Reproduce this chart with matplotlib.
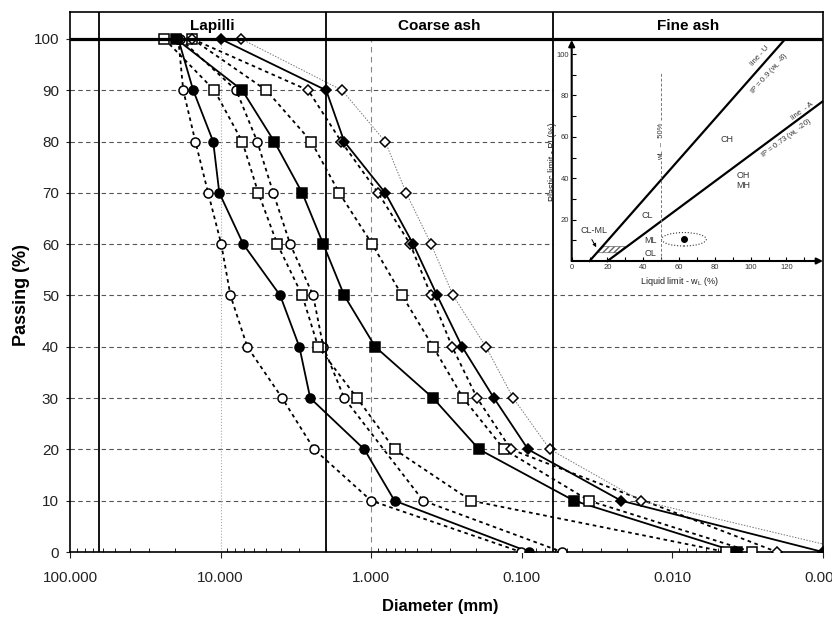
import numpy as np
import matplotlib
matplotlib.use("Agg")
import matplotlib.pyplot as plt
from matplotlib.patches import Ellipse, Polygon, Rectangle

plt.rcParams["font.family"] = ["Liberation Sans", "DejaVu Sans"]
plt.rcParams["mathtext.default"] = "regular"

# passing percentages (rows) shared by all samples
PASSING = [100, 90, 80, 70, 60, 50, 40, 30, 20, 10, 0]

# diameters (mm), one list per sample curve
open_circle_a = [19.1, 17.7, 14.7, 12.1, 9.9, 8.6, 6.65, 3.9, 2.39, 1.0, 0.101]
filled_circle = [19.1, 15.2, 11.2, 10.2, 7.07, 4.02, 3.0, 2.54, 1.11, 0.70, 0.0894]
open_square_a = [23.6, 11.0, 7.18, 5.62, 4.2, 2.87, 2.25, 1.24, 0.70, 0.217, 0.0044]
open_circle_b = [18.5, 7.87, 5.71, 4.47, 3.45, 2.43, 2.08, 1.51, np.nan, 0.452, 0.054]
filled_square = [19.7, 7.18, 4.4, 2.87, 2.08, 1.51, 0.94, 0.388, 0.192, 0.045, 0.00373]
open_square_b = [15.4, 4.97, 2.50, 1.63, 0.985, 0.623, 0.388, 0.245, 0.131, 0.0357, 0.00296]
open_diamond_a = [15.4, 2.62, 1.58, 0.90, 0.551, 0.40, 0.290, 0.198, 0.118, np.nan, 0.00202]
filled_diamond = [10.0, 1.99, 1.51, 0.807, 0.526, 0.365, 0.249, 0.153, 0.0908, 0.0219, 0.001]
open_diamond_b = [7.29, 1.56, 0.807, 0.586, 0.40, 0.286, 0.173, 0.114, 0.065, 0.0162, 0.0006]

# grain-size classes (mm boundaries) for the header
CLASS_NAMES = ["Lapilli", "Coarse ash", "Fine ash"]
CLASS_EDGES = [64, 2, 0.0625, 0.001]

X_TICKS = [100, 10, 1, 0.1, 0.01, 0.001]
Y_TICKS = list(range(0, 101, 10))

# plasticity chart inset
u_line_wl = [10, 119]
u_line_pi = [0, 107]
a_line_wl = [20, 140]
a_line_pi = [0, 77]
cl_ml_wl = [14, 26, 30, 17]
cl_ml_pi = [4, 4, 7, 7]
sample_wl = [63]
sample_pi = [10.6]


def main() -> None:
    fig = plt.figure(figsize=(8.32, 6.21), dpi=100)
    ax = fig.add_axes([70 / 832, 69 / 621, 753 / 832, 540 / 621])
    ytop = 105.26
    ax.set_xscale("log")
    ax.set_xlim(100, 0.001)
    ax.set_ylim(0, ytop)

    ax.set_yticks(Y_TICKS)
    ax.set_xticks(X_TICKS)
    ax.set_xticklabels([f"{v:.3f}" for v in X_TICKS])
    ax.tick_params(axis="both", which="major", labelsize=11, colors="#222222")
    ax.tick_params(axis="y", length=3, pad=5)
    ax.tick_params(axis="x", which="major", length=4, pad=10, direction="out")
    ax.tick_params(axis="x", which="minor", length=3, direction="in")
    for s in ax.spines.values():
        s.set_linewidth(1.2)

    for y in Y_TICKS[1:-1]:
        ax.axhline(y, color="#555555", lw=0.8, dashes=(4, 3), zorder=1)
    ax.axvline(10, ymax=100 / ytop, color="#aaaaaa", lw=0.8, ls=":", zorder=1)
    ax.axvline(1, ymax=100 / ytop, color="#888888", lw=0.8, dashes=(5, 4), zorder=1)

    # white backing for the inset (hides the grid in the fine-ash corner)
    ax.add_patch(Rectangle((0.001, 51), 0.0605, 49, facecolor="white",
                           edgecolor="none", zorder=2))

    # header band
    ax.axhline(100, color="black", lw=2.3, zorder=5)
    for edge in CLASS_EDGES[:3]:
        ax.axvline(edge, color="black", lw=1.3, zorder=5)
    for name, a, b in zip(CLASS_NAMES, CLASS_EDGES[:-1], CLASS_EDGES[1:]):
        ax.text(np.sqrt(a * b), 102.6, name, ha="center", va="center",
                fontsize=11, fontweight="bold")

    y = np.array(PASSING)
    dotted = (0, (2, 2))
    series = [
        (open_circle_a, "o", "white", dotted, "black", 1.3),
        (open_circle_b, "o", "white", dotted, "black", 1.3),
        (open_square_a, "s", "white", dotted, "black", 1.3),
        (open_square_b, "s", "white", dotted, "black", 1.3),
        (open_diamond_a, "D", "white", dotted, "black", 1.3),
        (open_diamond_b, "D", "white", (0, (1.5, 1.5)), "#777777", 0.7),
        (filled_circle, "o", "black", "-", "black", 1.3),
        (filled_square, "s", "black", "-", "black", 1.3),
        (filled_diamond, "D", "black", "-", "black", 1.3),
    ]
    for vals, mk, face, ls, lc, lw in series:
        d = np.array(vals, dtype=float)
        ok = ~np.isnan(d)
        ax.plot(d[ok], y[ok], color=lc, ls=ls, lw=lw, zorder=3)
        ms = 5.5 if mk == "D" else 6.5
        ax.plot(d[ok], y[ok], ls="none", marker=mk, ms=ms, mfc=face,
                mec="black", mew=1.1, zorder=4)

    fig.text(22 / 832, (621 - 295) / 621, "Passing (%)", rotation=90,
             ha="center", va="center", fontsize=13, fontweight="bold")
    fig.text(440 / 832, (621 - 606) / 621, "Diameter (mm)",
             ha="center", va="center", fontsize=12, fontweight="bold")

    axi = fig.add_axes([571.7 / 832, (621 - 261) / 621, 251.3 / 832, 221 / 621])
    axi.set_zorder(3)
    axi.patch.set_alpha(0)
    axi.set_xlim(0, 140.4)
    axi.set_ylim(0, 106.8)
    for s in axi.spines.values():
        s.set_visible(False)
    axi.set_xticks(range(0, 121, 20))
    axi.set_xticks(range(10, 131, 20), minor=True)
    axi.set_yticks(range(20, 101, 20))
    axi.set_yticks(range(10, 101, 20), minor=True)
    axi.tick_params(which="both", direction="in", length=3, width=0.8,
                    labelsize=5.5, pad=2, labelcolor="#333333")
    axi.annotate("", xy=(140.4, 0), xytext=(0, 0), annotation_clip=False,
                 arrowprops=dict(arrowstyle="-|>", lw=1.5, color="black", mutation_scale=9,
                                 shrinkA=0, shrinkB=0))
    axi.annotate("", xy=(0, 106.8), xytext=(0, 0), annotation_clip=False,
                 arrowprops=dict(arrowstyle="-|>", lw=1.5, color="black", mutation_scale=9,
                                 shrinkA=0, shrinkB=0))
    axi.text(-0.075, 0.45, "Plastic limit - PI (%)", rotation=90, transform=axi.transAxes,
             ha="center", va="center", fontsize=6.5, color="#222222")
    axi.text(0.43, -0.095, "Liquid limit - w$_L$ (%)", transform=axi.transAxes,
             ha="center", va="center", fontsize=6.5, color="#222222")

    axi.plot(u_line_wl, u_line_pi, color="black", lw=1.6, clip_on=False)
    axi.plot(a_line_wl, a_line_pi, color="black", lw=1.6, clip_on=False)
    axi.plot([50, 50], [0, 91.5], color="#777777", lw=0.7, dashes=(3, 2))
    axi.text(50, 58, "wL  \u2013  50%", rotation=90, ha="center", va="center",
             fontsize=5.5, color="#333333",
             bbox=dict(facecolor="white", edgecolor="none", pad=0.5))
    axi.add_patch(Polygon(list(zip(cl_ml_wl, cl_ml_pi)), closed=True, facecolor="white",
                          edgecolor="#666666", hatch="//////", lw=0.5))
    axi.plot(sample_wl, sample_pi, "o", color="black", ms=4)
    axi.add_patch(Ellipse((62.7, 10.5), 25, 6.5, fill=False, ls=":", lw=0.8,
                          edgecolor="#333333"))

    lbl = dict(fontsize=6.5, color="#333333", ha="center", va="center")
    axi.text(87, 58.5, "CH", **lbl)
    axi.text(96, 39, "OH\nMH", linespacing=1.1, **lbl)
    axi.text(42, 22, "CL", **lbl)
    axi.text(44, 10, "ML", **lbl)
    axi.text(44, 3.5, "OL", **lbl)
    axi.text(12.5, 14.5, "CL-ML", **lbl)
    axi.annotate("", xy=(14.5, 5.5), xytext=(10.5, 11.5),
                 arrowprops=dict(arrowstyle="-|>", lw=0.7, color="black", mutation_scale=5))

    small = dict(fontsize=5.5, color="#333333", ha="center", va="center", rotation_mode="anchor")
    axi.text(105, 99, "line - U", rotation=48.6, **small)
    axi.text(110.5, 90.5, "IP = 0.9 (w$_L$ -8)", rotation=48.6, **small)
    axi.text(129, 72.5, "line  - A", rotation=36.6, **small)
    axi.text(120, 59.5, "IP = 0.73 (w$_L$ -20)", rotation=36.6, **small)

    fig.savefig("out.png", dpi=100)
    plt.close(fig)


if __name__ == "__main__":
    main()
